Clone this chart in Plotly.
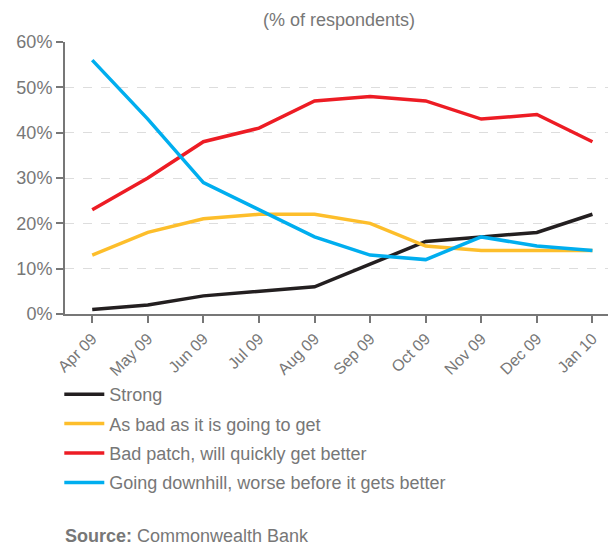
import plotly.graph_objects as go

months = ["Apr 09", "May 09", "Jun 09", "Jul 09", "Aug 09", "Sep 09", "Oct 09", "Nov 09", "Dec 09", "Jan 10"]
strong = [1, 2, 4, 5, 6, 11, 16, 17, 18, 22]
as_bad = [13, 18, 21, 22, 22, 20, 15, 14, 14, 14]
bad_patch = [23, 30, 38, 41, 47, 48, 47, 43, 44, 38]
downhill = [56, 43, 29, 23, 17, 13, 12, 17, 15, 14]

series_names = ["Strong", "As bad as it is going to get", "Bad patch, will quickly get better",
                "Going downhill, worse before it gets better"]
series_vals = [strong, as_bad, bad_patch, downhill]
colors = ["#231f20", "#fdbe2b", "#ed1c24", "#00aeef"]

FONT = "Liberation Sans"
GRAY = "#777777"

fig = go.Figure()
for i, (name, vals, col) in enumerate(zip(series_names, series_vals, colors)):
    fig.add_trace(go.Scatter(x=list(range(len(months))), y=vals, mode="lines", name=name,
                             legendgroup=str(i),
                             line=dict(color=col, width=3.5)))

fig.update_layout(
    width=608, height=546,
    margin=dict(l=65, r=0, t=42, b=232),
    paper_bgcolor="white", plot_bgcolor="white",
    font=dict(family=FONT, color=GRAY, size=18),
    showlegend=True,
    legend=dict(x=-0.0105, y=-0.228, xanchor="left", yanchor="top", orientation="v",
                tracegroupgap=3, font=dict(size=18, color=GRAY), itemwidth=40,
                bgcolor="rgba(0,0,0,0)"),
    xaxis=dict(range=[-0.49, 9.28], tickmode="array", tickvals=list(range(len(months))),
               ticktext=months, tickangle=-45, showgrid=False, zeroline=False,
               showline=True, linecolor=GRAY, linewidth=2, ticks="outside", ticklen=7,
               tickcolor=GRAY, tickwidth=1.5, tickfont=dict(size=16, color=GRAY)),
    yaxis=dict(range=[0, 60], dtick=10, ticksuffix="%", showgrid=True, gridcolor="#dddddd",
               griddash="dash", gridwidth=1, zeroline=False, showline=True, linecolor=GRAY,
               linewidth=2, ticks="outside", ticklen=7, tickcolor=GRAY, tickwidth=1.5,
               tickfont=dict(size=18, color=GRAY)),
    annotations=[
        dict(text="(% of respondents)", xref="paper", yref="paper", x=0.504, y=1.0,
             yshift=10, xanchor="center", yanchor="bottom", showarrow=False,
             font=dict(size=18, color=GRAY)),
        dict(text="<b>Source:</b> Commonwealth Bank", xref="paper", yref="paper", x=-0.004,
             y=-0.815, xanchor="left", yanchor="middle", showarrow=False,
             font=dict(size=18, color=GRAY)),
    ],
)

fig.write_html("out.html")
